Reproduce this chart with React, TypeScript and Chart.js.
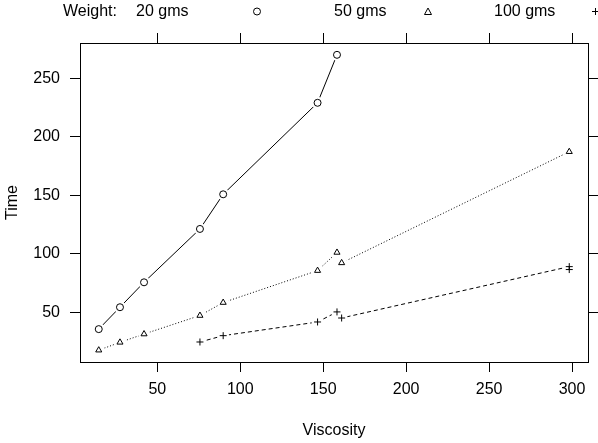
import React, { useEffect, useRef } from "react";
import { Chart, registerables } from "chart.js";

Chart.register(...registerables);

const visc20 = [14.7, 27.5, 42.0, 75.7, 89.7, 146.6, 158.3];
const time20 = [35.6, 54.3, 75.6, 121.2, 150.8, 229.0, 270.0];
const visc50 = [14.7, 27.5, 42.0, 75.7, 89.7, 146.6, 158.3, 161.1, 298.3];
const time50 = [17.6, 24.3, 31.4, 47.2, 58.3, 85.6, 101.1, 92.2, 187.2];
const visc100 = [75.7, 89.7, 146.6, 158.3, 161.1, 298.3, 298.3];
const time100 = [24.6, 30.0, 41.7, 50.3, 45.1, 89.0, 86.5];

const xTicks = [50, 100, 150, 200, 250, 300];
const yTicks = [50, 100, 150, 200, 250];
const legendLabels = ["20 gms", "50 gms", "100 gms"];

const FONT = "Liberation Sans, Arial, Helvetica, sans-serif";

function pts(xs: number[], ys: number[]) {
  return xs.map((x, i) => ({ x, y: ys[i] }));
}

// lattice type "b": small gap between line and each marker
const gaps = {
  id: "gaps",
  afterDatasetsDraw(chart: any) {
    const ctx = chart.ctx;
    ctx.save();
    ctx.fillStyle = "#fff";
    chart.data.datasets.forEach((_: any, i: number) => {
      const meta = chart.getDatasetMeta(i);
      meta.data.forEach((el: any) => {
        ctx.beginPath();
        ctx.arc(el.x, el.y, 6, 0, Math.PI * 2);
        ctx.fill();
      });
    });
    ctx.restore();
    chart.data.datasets.forEach((_: any, i: number) => {
      const meta = chart.getDatasetMeta(i);
      meta.data.forEach((el: any) => el.draw(ctx, chart.chartArea));
    });
  },
};

const overlay = {
  id: "overlay",
  afterDraw(chart: any) {
    const ctx = chart.ctx;
    const a = chart.chartArea;
    ctx.save();
    ctx.fillStyle = "#000";
    ctx.font = `16px ${FONT}`;
    ctx.textBaseline = "middle";
    ctx.textAlign = "left";
    // legend
    ctx.fillText("Weight:", 63, 12);
    ctx.fillText(legendLabels[0], 136, 12);
    ctx.fillText(legendLabels[1], 334, 12);
    ctx.fillText(legendLabels[2], 494, 12);
    ctx.strokeStyle = "#000";
    ctx.lineWidth = 1;
    // circle
    ctx.beginPath();
    ctx.arc(257, 11.5, 3.5, 0, Math.PI * 2);
    ctx.stroke();
    // triangle
    ctx.beginPath();
    ctx.moveTo(428, 8);
    ctx.lineTo(431.5, 14.5);
    ctx.lineTo(424.5, 14.5);
    ctx.closePath();
    ctx.stroke();
    // plus
    ctx.beginPath();
    ctx.moveTo(592, 11.5);
    ctx.lineTo(599, 11.5);
    ctx.moveTo(595.5, 8);
    ctx.lineTo(595.5, 15);
    ctx.stroke();
    // axis titles
    ctx.textAlign = "center";
    ctx.fillText("Viscosity", (a.left + a.right) / 2, 431);
    ctx.translate(13, (a.top + a.bottom) / 2);
    ctx.rotate(-Math.PI / 2);
    ctx.fillText("Time", 0, 0);
    ctx.restore();
  },
};

export default function App() {
  const ref = useRef<HTMLCanvasElement>(null);
  useEffect(() => {
    document.body.style.margin = "0";
    const common = {
      borderColor: "#000",
      pointBorderColor: "#000",
      pointBackgroundColor: "#fff",
      borderWidth: 1,
      pointBorderWidth: 1,
      pointRadius: 3.5,
      fill: false,
      tension: 0,
    };
    const grid = {
      drawOnChartArea: false,
      drawTicks: true,
      tickLength: 10,
      color: "#000",
      lineWidth: 1,
    };
    const border = { display: true, color: "#000", width: 1 };
    const chart = new Chart(ref.current!, {
      type: "line",
      data: {
        datasets: [
          { ...common, label: legendLabels[0], data: pts(visc20, time20), pointStyle: "circle" },
          { ...common, label: legendLabels[1], data: pts(visc50, time50), pointStyle: "triangle", borderDash: [1, 2] },
          { ...common, label: legendLabels[2], data: pts(visc100, time100), pointStyle: "cross", borderDash: [4, 3] },
        ],
      },
      options: {
        responsive: false,
        animation: false,
        layout: { padding: 0 },
        plugins: { legend: { display: false }, tooltip: { enabled: false } },
        scales: {
          x: {
            type: "linear",
            position: "bottom",
            min: 3.4,
            max: 309.6,
            grid,
            border,
            afterBuildTicks: (s: any) => { s.ticks = xTicks.map((v) => ({ value: v })); },
            afterFit: (s: any) => { s.height = 81; },
            ticks: { color: "#000", padding: 8, font: { family: FONT, size: 16 }, maxRotation: 0 },
          },
          x2: {
            type: "linear",
            position: "top",
            min: 3.4,
            max: 309.6,
            grid,
            border,
            afterBuildTicks: (s: any) => { s.ticks = xTicks.map((v) => ({ value: v })); },
            afterFit: (s: any) => { s.height = 43; },
            ticks: { display: false },
          },
          y: {
            type: "linear",
            position: "left",
            min: 7.5,
            max: 280.1,
            grid,
            border,
            afterBuildTicks: (s: any) => { s.ticks = yTicks.map((v) => ({ value: v })); },
            afterFit: (s: any) => { s.width = 80; },
            ticks: { color: "#000", padding: 10, font: { family: FONT, size: 16 } },
          },
          y2: {
            type: "linear",
            position: "right",
            min: 7.5,
            max: 280.1,
            grid,
            border,
            afterBuildTicks: (s: any) => { s.ticks = yTicks.map((v) => ({ value: v })); },
            afterFit: (s: any) => { s.width = 10; },
            ticks: { display: false },
          },
        },
      } as any,
      plugins: [gaps, overlay],
    });
    return () => chart.destroy();
  }, []);
  return (
    <div style={{ width: 598, height: 443 }}>
      <canvas ref={ref} width={598} height={443} />
    </div>
  );
}
